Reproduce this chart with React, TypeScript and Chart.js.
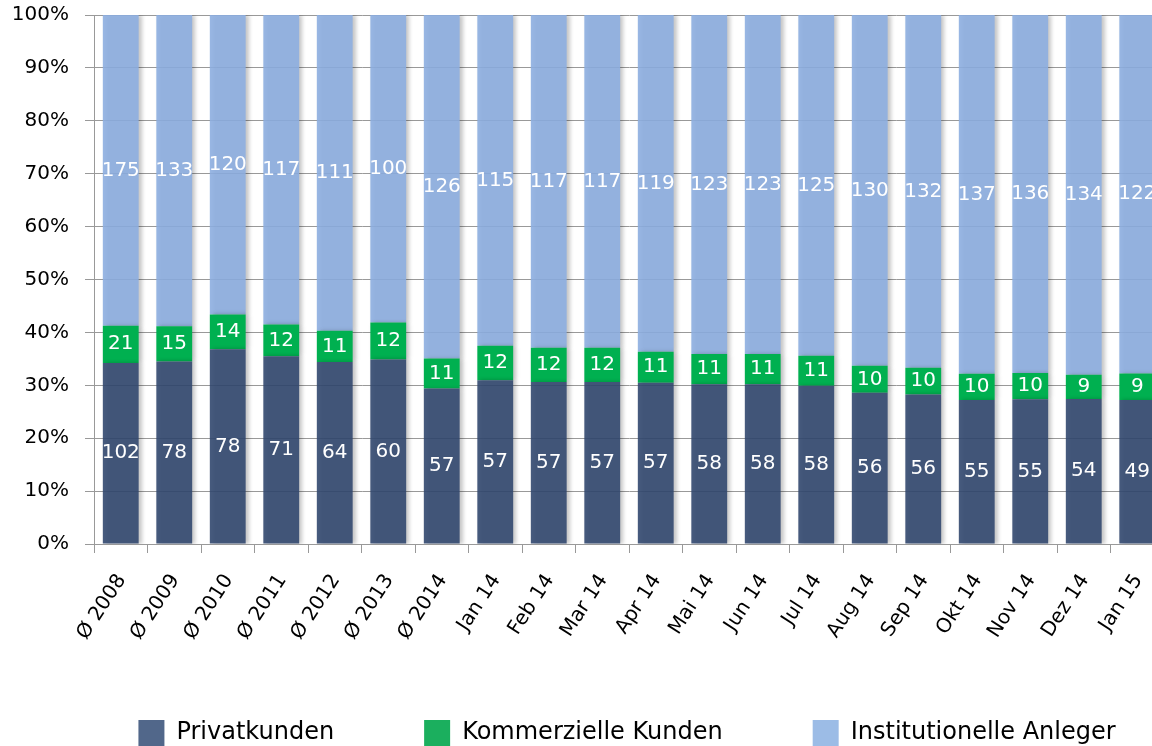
import { useEffect, useRef } from "react";
import { Chart, registerables } from "chart.js";

Chart.register(...registerables);

const categories = [
  "Ø 2008", "Ø 2009", "Ø 2010", "Ø 2011", "Ø 2012", "Ø 2013", "Ø 2014",
  "Jan 14", "Feb 14", "Mar 14", "Apr 14", "Mai 14", "Jun 14", "Jul 14",
  "Aug 14", "Sep 14", "Okt 14", "Nov 14", "Dez 14", "Jan 15",
];
const privatkunden = [102, 78, 78, 71, 64, 60, 57, 57, 57, 57, 57, 58, 58, 58, 56, 56, 55, 55, 54, 49];
const kommerzielleKunden = [21, 15, 14, 12, 11, 12, 11, 12, 12, 12, 11, 11, 11, 11, 10, 10, 10, 10, 9, 9];
const institutionelleAnleger = [175, 133, 120, 117, 111, 100, 126, 115, 117, 117, 119, 123, 123, 125, 130, 132, 137, 136, 134, 122];
const seriesNames = ["Privatkunden", "Kommerzielle Kunden", "Institutionelle Anleger"];

const FONT = "'DejaVu Sans', Verdana, sans-serif";
const CANVAS_W = 1254;
const CANVAS_H = 770;
const PLOT_RIGHT = 1164;
const barColors = ["rgba(50,72,111,0.9)", "#00B050", "rgba(141,174,224,0.9)"];
const legendColors = ["#51678A", "#1BAF5E", "#9CBCE6"];

export default function App() {
  const ref = useRef<HTMLCanvasElement>(null);

  useEffect(() => {
    if (!ref.current) return;
    const raw = [privatkunden, kommerzielleKunden, institutionelleAnleger];
    const totals = categories.map((_, i) => privatkunden[i] + kommerzielleKunden[i] + institutionelleAnleger[i]);
    const toPct = (arr: number[]) => arr.map((v, i) => (v / totals[i]) * 100);

    const shadowPlugin = {
      id: "barShadow",
      beforeDatasetsDraw(chart: any) {
        const ctx = chart.ctx;
        ctx.save();
        ctx.shadowColor = "rgba(0,0,0,0.25)";
        ctx.shadowBlur = 4;
        ctx.shadowOffsetX = 3;
        ctx.shadowOffsetY = 0;
      },
      afterDatasetsDraw(chart: any) {
        chart.ctx.restore();
      },
    };

    const labelPlugin = {
      id: "valueLabels",
      afterDatasetsDraw(chart: any) {
        const ctx = chart.ctx;
        ctx.save();
        ctx.shadowColor = "transparent";
        ctx.font = `20px ${FONT}`;
        ctx.fillStyle = "#ffffff";
        ctx.textAlign = "center";
        ctx.textBaseline = "middle";
        chart.data.datasets.forEach((_: any, di: number) => {
          const meta = chart.getDatasetMeta(di);
          meta.data.forEach((el: any, i: number) => {
            const p = el.getProps(["x", "y", "base"], true);
            ctx.fillText(String(raw[di][i]), p.x, (p.y + p.base) / 2);
          });
        });
        ctx.restore();
      },
    };

    const chart = new Chart(ref.current, {
      type: "bar",
      data: {
        labels: categories,
        datasets: [
          { label: seriesNames[0], data: toPct(privatkunden), backgroundColor: barColors[0] },
          { label: seriesNames[1], data: toPct(kommerzielleKunden), backgroundColor: barColors[1] },
          { label: seriesNames[2], data: toPct(institutionelleAnleger), backgroundColor: barColors[2] },
        ],
      },
      options: {
        responsive: false,
        animation: false,
        devicePixelRatio: 1,
        datasets: { bar: { barPercentage: 0.67, categoryPercentage: 1, borderWidth: 0 } },
        layout: { padding: { top: 15, left: 0, right: 0, bottom: 14 } },
        plugins: {
          tooltip: { enabled: false },
          legend: {
            position: "bottom",
            labels: {
              font: { family: FONT, size: 24 },
              color: "#000",
              boxWidth: 26,
              boxHeight: 26,
              padding: 90,
              generateLabels: (c: any) => {
                const items = Chart.defaults.plugins.legend.labels.generateLabels(c);
                items.forEach((it: any, i: number) => {
                  it.fillStyle = legendColors[i];
                  it.strokeStyle = legendColors[i];
                  it.lineWidth = 0;
                });
                return items;
              },
            },
          },
        },
        scales: {
          x: {
            stacked: true,
            offset: true,
            grid: { display: true, drawOnChartArea: false, drawTicks: true, tickLength: 9, color: "#999", offset: true },
            border: { display: true, color: "#999" },
            ticks: {
              autoSkip: false,
              maxRotation: 57,
              minRotation: 57,
              font: { family: FONT, size: 20 },
              color: "#000",
              padding: 17,
              labelOffset: 1,
            },
            afterFit: (s: any) => {
              s.height = 86;
              s._computeLabelArea = () => undefined;
            },
          },
          y: {
            stacked: true,
            min: 0,
            max: 100,
            grid: { color: "#999", tickLength: 9 },
            border: { display: true, color: "#999" },
            ticks: {
              stepSize: 10,
              font: { family: FONT, size: 20 },
              color: "#000",
              padding: 16,
              callback: (v: any) => `${v}%`,
            },
            afterFit: (s: any) => {
              s.width = 94;
              s.paddingTop = 0;
              s.paddingBottom = 0;
            },
          },
          y2: {
            position: "right",
            display: true,
            grid: { display: false, drawTicks: false },
            border: { display: false },
            ticks: { display: false },
            afterFit: (s: any) => {
              s.width = CANVAS_W - PLOT_RIGHT;
              s.paddingTop = 0;
              s.paddingBottom = 0;
            },
          },
        },
      },
      plugins: [shadowPlugin, labelPlugin],
    } as any);

    return () => chart.destroy();
  }, []);

  return (
    <div style={{ position: "fixed", left: 0, top: 0, width: 1152, height: 746, overflow: "hidden", background: "#fff" }}>
      <canvas ref={ref} width={CANVAS_W} height={CANVAS_H} style={{ width: CANVAS_W, height: CANVAS_H, display: "block" }} />
    </div>
  );
}
